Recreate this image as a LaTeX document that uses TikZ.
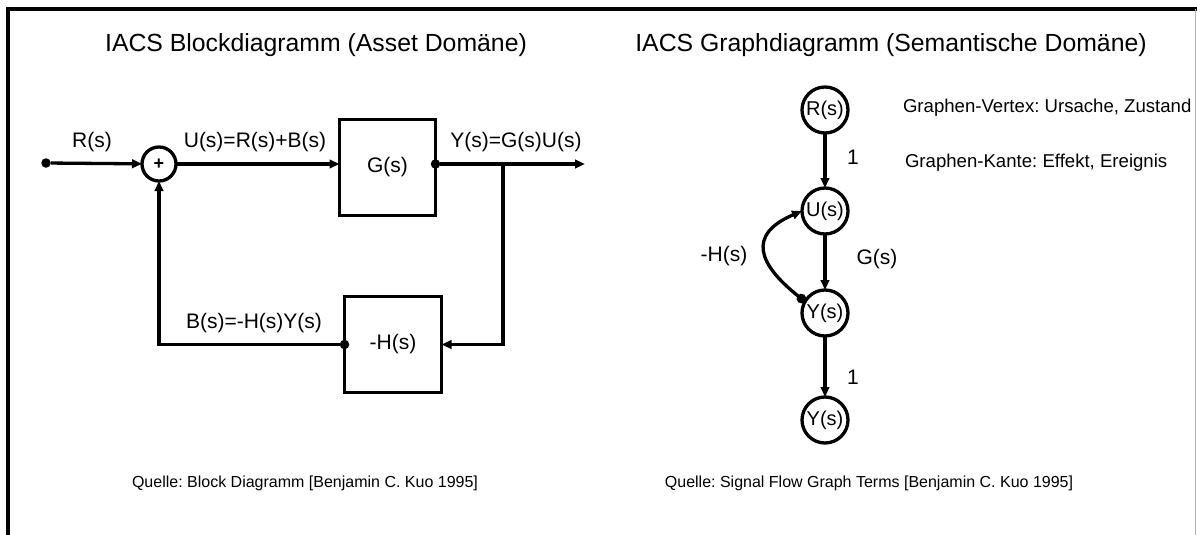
\documentclass[tikz,border=0pt]{standalone}
\usepackage{fontspec}
\setmainfont{Liberation Sans}
\usetikzlibrary{arrows.meta}
\frenchspacing
\begin{document}
\begin{tikzpicture}[x=1pt,y=-1pt,
  every node/.style={inner sep=0pt, outer sep=0pt},
  lw/.style={line width=3.3pt},
  tip/.style={-{Triangle[length=10pt,width=8.5pt]}},
  titlef/.style={font=\fontsize{24.8}{28}\selectfont, anchor=base},
  lab/.style={font=\fontsize{21}{24}\selectfont, anchor=base},
  glab/.style={font=\fontsize{21}{24}\selectfont, anchor=center},
  capt/.style={font=\fontsize{16}{19}\selectfont, anchor=base},
  desc/.style={font=\fontsize{18.6}{22}\selectfont, anchor=base west},
  blockbox/.style={draw, line width=3.5pt, minimum width=96pt, minimum height=96pt, font=\fontsize{21}{24}\selectfont},
  dotn/.style={circle, fill, minimum size=9.5pt},
  sumn/.style={circle, draw, line width=3.3pt, minimum size=34pt, font=\fontsize{18}{20}\selectfont\bfseries},
  vert/.style={circle, draw, line width=3.3pt, minimum size=46pt, font=\fontsize{20}{22}\selectfont},
]
\useasboundingbox (0,0) rectangle (1197,535);
% frame
\draw[line width=3.5pt] (8,535) -- (8,9) -- (1197,9);
\draw[black!30, line width=1pt] (1195.5,9) -- (1195.5,535);

% titles
\node[titlef] (t1) at (316,52) {IACS Blockdiagramm (Asset Domäne)};
\node[titlef] (t2) at (891,52) {IACS Graphdiagramm (Semantische Domäne)};

% block diagram
\node[dotn] (in) at (46,163) {};
\node[sumn] (sum) at (159,164) {+};
\node[blockbox] (G) at (387.5,167.5) {G(s)};
\node[blockbox, minimum width=97pt] (H) at (393,344.5) {-H(s)};
\node[dotn] (gdot) at (G.east |- sum) {};
\node[dotn] (hdot) at (H.west) {};
\coordinate (out) at (585,164);
\coordinate (br) at (503,164);
\coordinate (fb) at (503,344.5);

\draw[lw,tip] (in) -- (sum);
\draw[lw,tip] (sum) -- (sum -| G.west);
\draw[lw,tip] (gdot) -- (out);
\draw[lw,tip] (br) -- (fb) -- (H.east);
\draw[lw,tip] (hdot) -- (hdot -| sum) -- (sum);

\node[lab] (lr) at (92,147) {R(s)};
\node[lab] (lu) at (255,147) {U(s)=R(s)+B(s)};
\node[lab] (ly) at (516,147) {Y(s)=G(s)U(s)};
\node[lab] (lb) at (254,328) {B(s)=-H(s)Y(s)};
\node[capt] (q1) at (305,487) {Quelle: Block Diagramm [Benjamin C. Kuo 1995]};

% signal flow graph
\node[vert] (R) at (825,110) {R(s)};
\node[vert] (U) at (825,211) {U(s)};
\node[vert] (Y) at (825,313) {Y(s)};
\node[vert] (Y2) at (825,420) {Y(s)};
\draw[lw,tip] (R) -- (U);
\draw[lw,tip] (U) -- (Y);
\draw[lw,tip] (Y) -- (Y2);
\draw[line width=3.3pt, {Circle[length=9.5pt]}-{Triangle[length=10pt,width=8.5pt]}] (Y.150) .. controls (759,265) and (746,235) .. (U.west);

\node[glab] (g1) at (853,157) {1};
\node[glab] (gg) at (877,259) {G(s)};
\node[glab] (gh) at (724,256) {-H(s)};
\node[glab] (g2) at (853,377) {1};
\node[desc] (dv) at (903,113) {Graphen-Vertex: Ursache, Zustand};
\node[desc] (dk) at (905,167) {Graphen-Kante: Effekt, Ereignis};
\node[capt] (q2) at (869,487) {Quelle: Signal Flow Graph Terms [Benjamin C. Kuo 1995]};
\end{tikzpicture}
\end{document}
